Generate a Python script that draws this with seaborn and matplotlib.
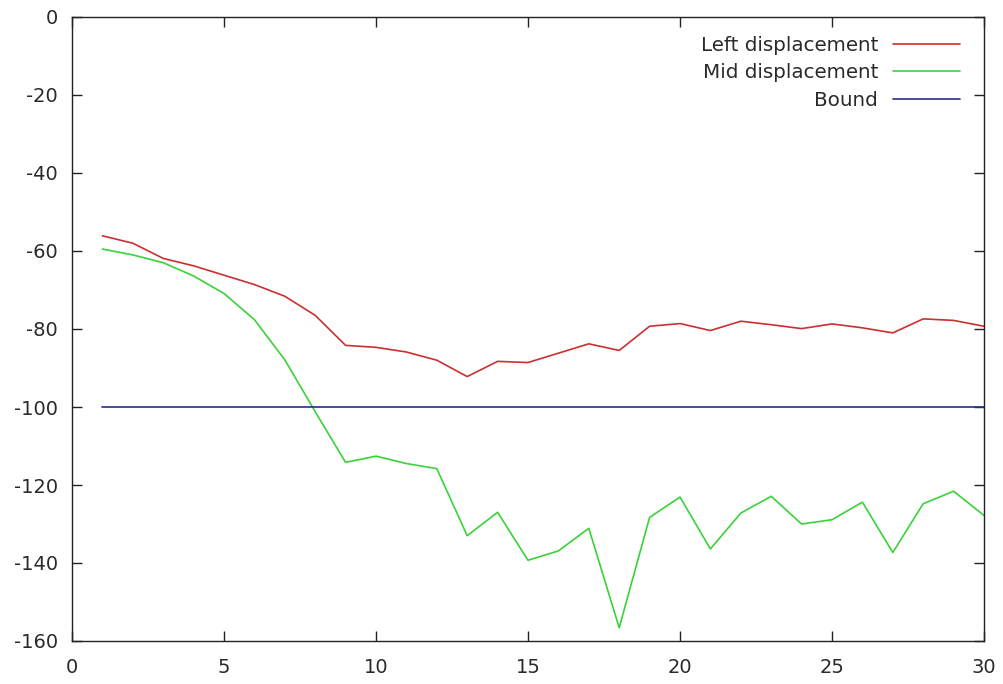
import matplotlib
matplotlib.use("Agg")
import matplotlib.pyplot as plt
import numpy as np
import pandas as pd
import seaborn as sns

# data
steps = list(range(1, 31))
left_disp = [-56.1, -58.0, -61.9, -63.8, -66.2, -68.6, -71.6, -76.5, -84.2, -84.7,
             -85.9, -88.0, -92.2, -88.3, -88.6, -86.2, -83.8, -85.5, -79.3, -78.6,
             -80.4, -78.0, -78.9, -79.9, -78.7, -79.7, -81.0, -77.4, -77.8, -79.3]
mid_disp = [-59.5, -61.0, -63.0, -66.4, -70.9, -77.6, -87.9, -101.2, -114.2, -112.6,
            -114.5, -115.8, -133.0, -127.0, -139.3, -136.9, -131.1, -156.6, -128.3, -123.1,
            -136.4, -127.2, -122.9, -130.0, -128.9, -124.4, -137.3, -124.8, -121.6, -127.8]
bound = [-100.0] * len(steps)

series_names = ["Left displacement", "Mid displacement", "Bound"]
colors = ["#cc2f2f", "#3ad23a", "#2b2b8c"]

df = pd.concat([
    pd.DataFrame({"x": steps, "y": left_disp, "series": series_names[0]}),
    pd.DataFrame({"x": steps, "y": mid_disp, "series": series_names[1]}),
    pd.DataFrame({"x": steps, "y": bound, "series": series_names[2]}),
])

sns.set_style("ticks")
plt.rcParams["font.family"] = ["DejaVu Sans"]
plt.rcParams["axes.unicode_minus"] = False

fig = plt.figure(figsize=(10.04, 6.84), dpi=100)
ax = fig.add_axes([72 / 1004, 1 - 641 / 684, (984 - 72) / 1004, (641 - 17) / 684])

sns.lineplot(data=df, x="x", y="y", hue="series", hue_order=series_names,
             palette=colors, linewidth=1.2, ax=ax, legend=True)

ax.set_xlim(0, 30)
ax.set_ylim(-160, 0)
ax.set_xticks(range(0, 31, 5))
ax.set_yticks(range(-160, 1, 20))
ax.set_xlabel("")
ax.set_ylabel("")
ax.tick_params(direction="in", top=True, right=True, length=7, width=1,
               labelsize=14, colors="#222222", labelcolor="#2a2a2a")
ax.tick_params(axis="y", pad=10)
ax.tick_params(axis="x", pad=12)
for sp in ax.spines.values():
    sp.set_linewidth(1)
    sp.set_color("#222222")

leg = ax.legend(loc="upper right", frameon=False, markerfirst=False,
                fontsize=14.3, handlelength=3.35, handletextpad=0.77,
                labelspacing=0.42, borderpad=0, borderaxespad=0,
                bbox_to_anchor=(960 / 1004, 1 - 36 / 684),
                bbox_transform=fig.transFigure, alignment="right")
for t in leg.get_texts():
    t.set_ha("right")
    t.set_color("#2a2a2a")

fig.savefig("out.png", dpi=100)
